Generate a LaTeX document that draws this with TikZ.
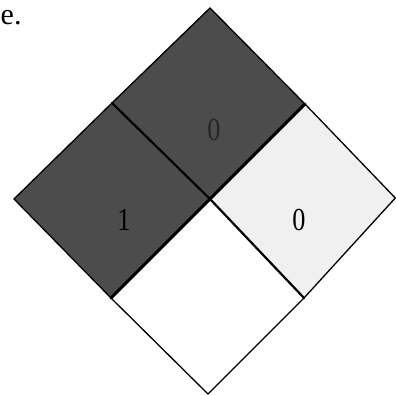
\documentclass[tikz,border=0pt]{standalone}
\usepackage{fontspec}
\setmainfont{Liberation Serif}
\tikzset{
  x=1pt,y=-1pt,
  outer/.style={draw=black,line width=1.3pt,line join=miter},
  inner/.style={draw=black,line width=2.2pt,line cap=round},
  innerheavy/.style={draw=black,line width=3pt,line cap=round},
  darkcell/.style={fill=black!70},
  lightcell/.style={fill=black!6},
  cellnum/.style={font=\fontsize{32}{34}\selectfont,inner sep=0pt,xscale=.82}
}
\begin{document}
\begin{tikzpicture}
\useasboundingbox (0,0) rectangle (396,395);
\coordinate (T) at (210,8);
\coordinate (TR) at (305,104);
\coordinate (C) at (210,199);
\coordinate (TL) at (112,103);
\coordinate (L) at (14,199);
\coordinate (BL) at (111,298);
\coordinate (R) at (395.3,198);
\coordinate (BR) at (304,298);
\coordinate (B) at (208,394);
\fill[darkcell] (T) -- (TR) -- (C) -- (TL) -- cycle;
\fill[darkcell] (TL) -- (C) -- (BL) -- (L) -- cycle;
\fill[lightcell] (TR) -- (R) -- (BR) -- (C) -- cycle;
\draw[outer] (TL) -- (T) -- (TR) -- (R) -- (BR) -- (B) -- (BL) -- (L) -- cycle;
\draw[inner] (TL) -- (C) -- (BR);
\draw[innerheavy] (TR) -- (C) -- (BL);
\node[cellnum,text=black!85] (top) at (214,130) {0};
\node[cellnum,text=black] (left) at (124,220) {1};
\node[cellnum,text=black] (right) at (299,220) {0};
\node[font=\fontsize{30}{32}\selectfont,inner sep=0pt,anchor=base west] (frag) at (0.5,25) {e.};
\end{tikzpicture}
\end{document}
